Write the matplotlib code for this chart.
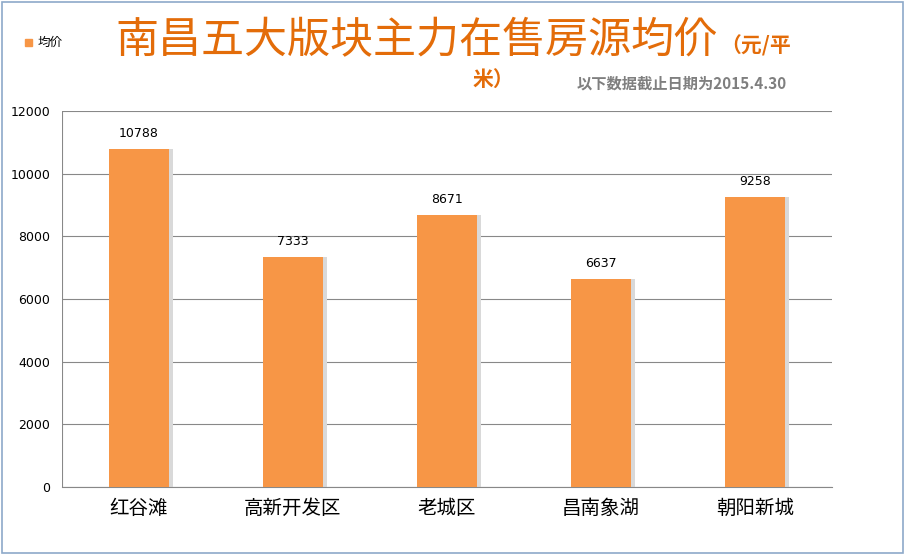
import matplotlib.pyplot as plt
from matplotlib.patches import Rectangle

plt.rcParams['font.family'] = ['Noto Sans CJK JP', 'Noto Sans CJK SC', 'DejaVu Sans']

districts = ['红谷滩', '高新开发区', '老城区', '昌南象湖', '朝阳新城']
avg_price = [10788, 7333, 8671, 6637, 9258]
y_ticks = [0, 2000, 4000, 6000, 8000, 10000, 12000]

orange = '#F79646'
fig = plt.figure(figsize=(9.06, 5.55), dpi=100)
ax = fig.add_axes([0.068, 0.1225, 0.85, 0.6775])

x = range(len(districts))
# soft shadow behind the bars
ax.bar([i + 0.03 for i in x], avg_price, width=0.39, color='#d9d9d9', zorder=2)
bars = ax.bar(x, avg_price, width=0.39, color=orange, zorder=3)
for b, v in zip(bars, avg_price):
    ax.text(b.get_x() + b.get_width() / 2, v + 300, str(v), ha='center', va='bottom',
            fontsize=9, family='DejaVu Sans')

ax.set_xlim(-0.5, 4.5)
ax.set_ylim(0, 12000)
ax.set_yticks(y_ticks)
ax.set_yticklabels([str(t) for t in y_ticks], fontsize=9, family='DejaVu Sans')
ax.set_xticks(list(x))
ax.set_xticklabels(districts, fontsize=14)
ax.grid(axis='y', color='#888888', linewidth=0.8, zorder=0)
ax.tick_params(axis='both', length=0, pad=8)
for s in ['top', 'right', 'left']:
    ax.spines[s].set_visible(False)
ax.spines['bottom'].set_color('#888888')
ax.axvline(-0.5, color='#888888', linewidth=0.8)

fig.text(0.127, 0.925, '南昌五大版块主力在售房源均价', fontsize=31, color='#E36C09', va='center')
fig.text(0.795, 0.918, '（元/平', fontsize=15, color='#E36C09', va='center', weight='bold')
fig.text(0.522, 0.856, '米）', fontsize=15, color='#E36C09', va='center', weight='bold')
fig.text(0.637, 0.85, '以下数据截止日期为2015.4.30', fontsize=11, color='#7f7f7f',
         va='center', weight='bold')
fig.patches.append(Rectangle((0.028, 0.917), 0.007, 0.012, transform=fig.transFigure,
                             color=orange))
fig.text(0.042, 0.923, '均价', fontsize=9, va='center')
fig.patches.append(Rectangle((0.002, 0.003), 0.995, 0.994, transform=fig.transFigure,
                             fill=False, edgecolor='#8ea9c9', linewidth=1.2))

fig.savefig('out.png', dpi=100)
